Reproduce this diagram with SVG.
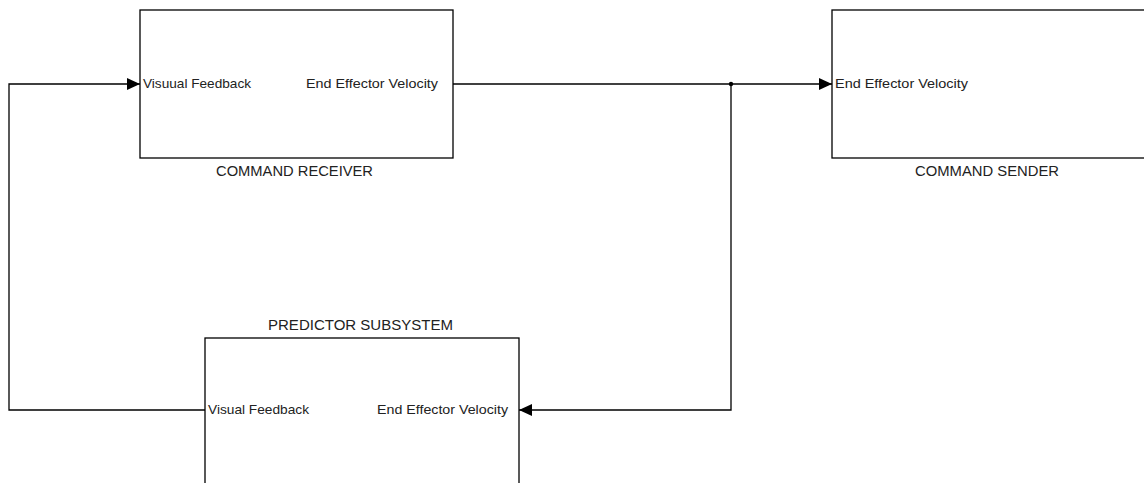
<svg xmlns="http://www.w3.org/2000/svg" width="1144" height="483" viewBox="0 0 1144 483">
<style>
.box{fill:#fff;stroke:#000;stroke-width:1.3}
.wire{fill:none;stroke:#000;stroke-width:1.3}
.port{font-family:"Liberation Sans",Arial,sans-serif;font-size:13px;fill:#222}
.title{font-family:"Liberation Sans",Arial,sans-serif;font-size:14px;fill:#222}
</style>
<defs>
<marker id="arr" markerWidth="13" markerHeight="12" refX="13" refY="6" orient="auto" markerUnits="userSpaceOnUse">
<path d="M0,0 L13,6 L0,12 Z" fill="#000"/>
</marker>
</defs>
<rect width="1144" height="483" fill="#fff"/>
<g id="receiver">
<rect class="box" x="140" y="10" width="313" height="148"/>
<text class="port" x="143" y="88" textLength="108" lengthAdjust="spacingAndGlyphs">Visuual Feedback</text>
<text class="port" x="306" y="88" textLength="132" lengthAdjust="spacingAndGlyphs">End Effector Velocity</text>
<text class="title" x="216" y="176" textLength="157" lengthAdjust="spacingAndGlyphs">COMMAND RECEIVER</text>
</g>
<g id="sender">
<rect class="box" x="832" y="10" width="330" height="148"/>
<text class="port" x="835" y="88" textLength="133" lengthAdjust="spacingAndGlyphs">End Effector Velocity</text>
<text class="title" x="915" y="176" textLength="144" lengthAdjust="spacingAndGlyphs">COMMAND SENDER</text>
</g>
<g id="predictor">
<rect class="box" x="205" y="338" width="314" height="160"/>
<text class="port" x="208" y="414" textLength="101" lengthAdjust="spacingAndGlyphs">Visual Feedback</text>
<text class="port" x="377" y="414" textLength="131" lengthAdjust="spacingAndGlyphs">End Effector Velocity</text>
<text class="title" x="268" y="330" textLength="185" lengthAdjust="spacingAndGlyphs">PREDICTOR SUBSYSTEM</text>
</g>
<g id="connectors">
<path class="wire" d="M453,84 H832" marker-end="url(#arr)"/>
<path class="wire" d="M731,84 V410 H519" marker-end="url(#arr)"/>
<path class="wire" d="M205,410 H9 V84 H140" marker-end="url(#arr)"/>
<circle cx="731" cy="84" r="2.2" fill="#000"/>
</g>
</svg>
